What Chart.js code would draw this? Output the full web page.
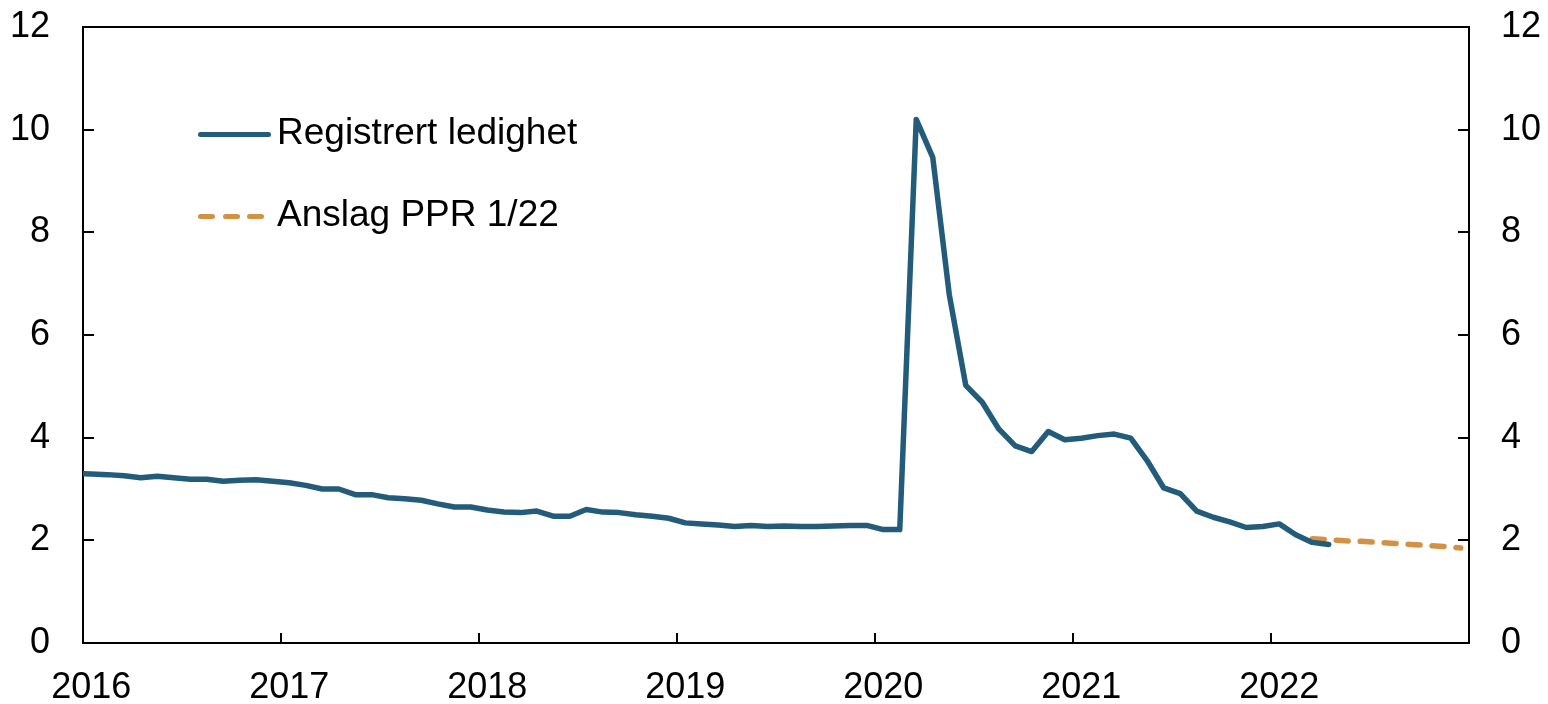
<!DOCTYPE html>
<html lang="no">
<head>
    <meta charset="UTF-8">
    <title>Registrert ledighet</title>
    <script src="https://cdn.jsdelivr.net/npm/chart.js"></script>
    <style>
        body {
            margin: 0;
            background: #fff;
            font-family: "Liberation Sans", Arial, sans-serif;
        }
        .wrap {
            position: relative;
            width: 1548px;
            height: 704px;
        }
        .legend {
            position: absolute;
            left: 198px;
            top: 110px;
            font-size: 37px;
            color: #000;
        }
        .legend-row {
            position: relative;
            height: 82px;
        }
        .legend-row span.txt {
            position: absolute;
            left: 79px;
            top: 1px;
            white-space: nowrap;
        }
        .swatch {
            position: absolute;
            top: 22px;
            height: 5px;
            border-radius: 3px;
        }
    </style>
</head>
<body>
    <div class="wrap">
        <canvas id="chart" width="1548" height="704"></canvas>
        <div class="legend">
            <div class="legend-row">
                <div class="swatch" style="left:0;width:73px;background:#235B7B"></div>
                <span class="txt">Registrert ledighet</span>
            </div>
            <div class="legend-row">
                <div class="swatch" style="left:0;width:17px;background:#D39143"></div>
                <div class="swatch" style="left:25px;width:17px;background:#D39143"></div>
                <div class="swatch" style="left:49px;width:17px;background:#D39143"></div>
                <span class="txt">Anslag PPR 1/22</span>
            </div>
        </div>
    </div>

    <script>
        // monthly data, Dec 2015 - Apr 2022 (prosent av arbeidsstyrken)
        const firstMonth = '2015-12';
        const registrert = [
            3.30,
            3.29, 3.28, 3.26, 3.22, 3.25, 3.22, 3.19, 3.19, 3.15, 3.17, 3.18, 3.15,
            3.12, 3.07, 3.00, 3.00, 2.89, 2.89, 2.83, 2.81, 2.78, 2.71, 2.65, 2.65,
            2.59, 2.55, 2.54, 2.57, 2.47, 2.47, 2.60, 2.55, 2.54, 2.50, 2.47, 2.43,
            2.34, 2.32, 2.30, 2.27, 2.29, 2.27, 2.28, 2.27, 2.27, 2.28, 2.29, 2.29,
            2.21, 2.21, 10.20, 9.46, 6.79, 5.02, 4.69, 4.17, 3.84, 3.73, 4.12, 3.96,
            3.99, 4.04, 4.07, 3.99, 3.55, 3.02, 2.91, 2.57, 2.45, 2.36, 2.25, 2.27,
            2.32, 2.11, 1.96, 1.92
        ];
        // forecast, Mar 2022 - Dec 2022
        const anslagStart = '2022-03';
        const anslag = [2.03, 2.01, 1.99, 1.98, 1.96, 1.94, 1.92, 1.90, 1.88, 1.85];

        const yearLabels = ['2016', '2017', '2018', '2019', '2020', '2021', '2022'];
        const yTicks = [0, 2, 4, 6, 8, 10, 12];

        const BLUE = '#235B7B';
        const ORANGE = '#D39143';
        const FONT = { family: '"Liberation Sans", Arial, sans-serif', size: 36 };

        // months since Jan 2016, points sit mid-month
        function monthPos(ym, offset) {
            let [y, m] = ym.split('-').map(Number);
            return (y - 2016) * 12 + (m - 1) + offset + 0.5;
        }
        function toPoints(start, values) {
            return values.map((v, i) => ({ x: monthPos(start, i), y: v }));
        }

        // inward tick marks on all axes + top border
        const tickMarks = {
            id: 'tickMarks',
            afterDatasetsDraw(chart) {
                let ctx = chart.ctx;
                let a = chart.chartArea;
                let xs = chart.scales.x, ys = chart.scales.y;
                ctx.save();
                ctx.strokeStyle = '#000';
                ctx.lineWidth = 2;
                ctx.beginPath();
                yTicks.forEach(v => {
                    let py = Math.round(ys.getPixelForValue(v));
                    ctx.moveTo(a.left, py); ctx.lineTo(a.left + 11, py);
                    ctx.moveTo(a.right - 11, py); ctx.lineTo(a.right, py);
                });
                yearLabels.forEach((l, i) => {
                    let px = Math.round(xs.getPixelForValue(i * 12));
                    ctx.moveTo(px, a.bottom); ctx.lineTo(px, a.bottom - 10);
                });
                ctx.moveTo(a.left - 1, a.top); ctx.lineTo(a.right + 1, a.top);
                ctx.stroke();
                ctx.restore();
            }
        };

        function fixY(width) {
            return function (scale) {
                scale.width = width;
                scale.paddingTop = 0;
                scale.paddingBottom = 0;
            };
        }

        new Chart(document.getElementById('chart'), {
            type: 'line',
            data: {
                datasets: [{
                    label: 'Registrert ledighet',
                    data: toPoints(firstMonth, registrert),
                    borderColor: BLUE,
                    borderWidth: 5.5,
                    borderJoinStyle: 'round',
                    borderCapStyle: 'round',
                    pointRadius: 0,
                    tension: 0,
                    clip: 0
                }, {
                    label: 'Anslag PPR 1/22',
                    data: toPoints(anslagStart, anslag),
                    borderColor: ORANGE,
                    borderWidth: 5.5,
                    borderDash: [12, 12],
                    borderCapStyle: 'round',
                    pointRadius: 0,
                    tension: 0,
                    clip: 0
                }]
            },
            options: {
                responsive: false,
                animation: false,
                layout: { padding: { top: 27, left: 0, right: 0, bottom: 0 } },
                plugins: {
                    legend: { display: false },
                    tooltip: { enabled: false }
                },
                scales: {
                    x: {
                        type: 'linear',
                        min: 0,
                        max: 84,
                        afterBuildTicks(scale) {
                            scale.ticks = yearLabels.map((l, i) => ({ value: i * 12 + 0.5 }));
                        },
                        afterFit(scale) { scale.height = 61; },
                        grid: { display: false, drawTicks: false },
                        border: { display: true, color: '#000', width: 2 },
                        ticks: {
                            autoSkip: false,
                            maxRotation: 0,
                            padding: 23,
                            color: '#000',
                            font: FONT,
                            callback: v => yearLabels[Math.floor(v / 12)]
                        }
                    },
                    y: {
                        position: 'left',
                        min: 0,
                        max: 12,
                        afterFit: fixY(83),
                        grid: { display: false, drawTicks: false },
                        border: { display: true, color: '#000', width: 2 },
                        ticks: { stepSize: 2, padding: 33, color: '#000', font: FONT }
                    },
                    y2: {
                        position: 'right',
                        min: 0,
                        max: 12,
                        afterFit: fixY(79),
                        grid: { display: false, drawTicks: false },
                        border: { display: true, color: '#000', width: 2 },
                        ticks: { stepSize: 2, padding: 32, color: '#000', font: FONT }
                    }
                }
            },
            plugins: [tickMarks]
        });
    </script>
</body>
</html>
